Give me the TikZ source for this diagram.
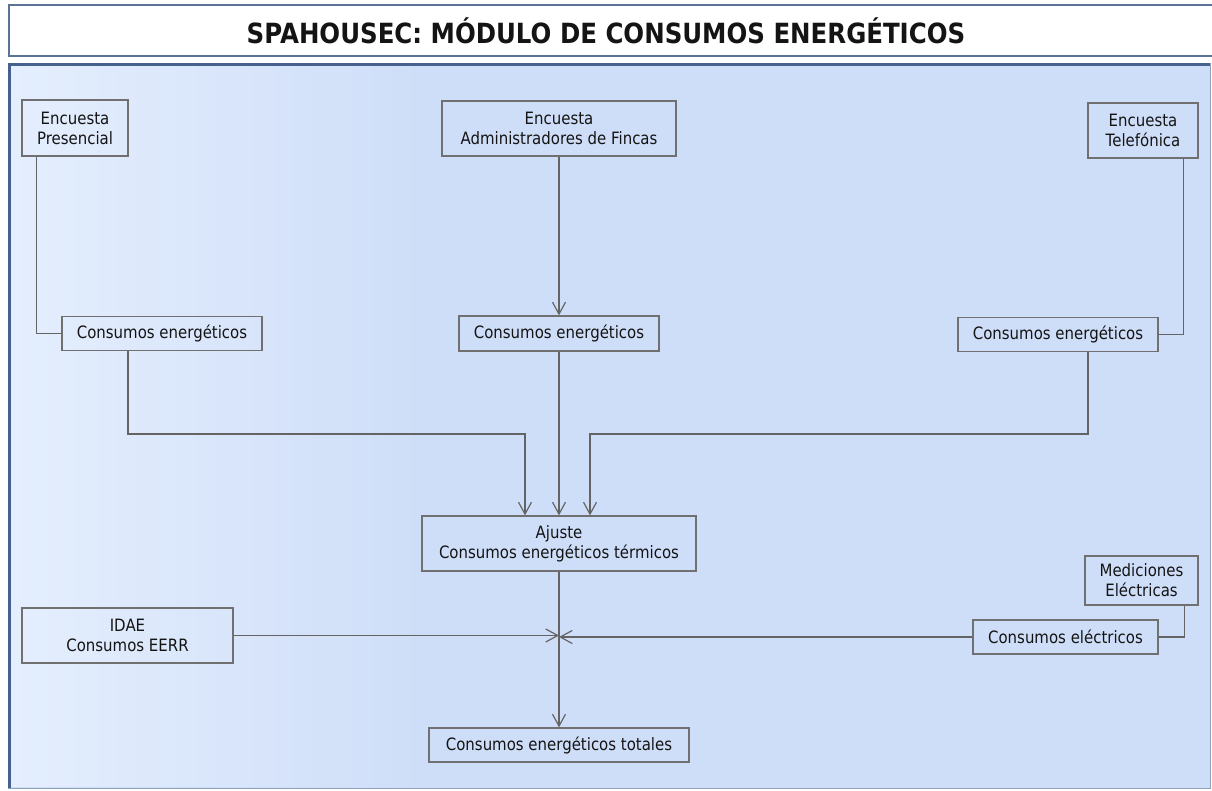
\documentclass[tikz,border=0pt]{standalone}
\usepackage{fontspec}
\setmainfont{DejaVu Sans}[FakeStretch=0.88]
\usetikzlibrary{arrows.meta,calc}
\definecolor{panelblue}{RGB}{207,222,248}
\definecolor{panellight}{RGB}{228,238,253}
\definecolor{panelborder}{RGB}{70,98,140}
\definecolor{titleborder}{RGB}{90,115,150}
\definecolor{linegray}{RGB}{100,100,100}
\definecolor{boxgray}{RGB}{112,112,112}
\definecolor{txt}{RGB}{20,20,20}
\begin{document}
\begin{tikzpicture}[x=1pt,y=-1pt,
  box/.style={draw=boxgray,line width=1.2pt,rectangle,align=center,inner sep=0pt,
     text=txt,font=\fontsize{17}{20}\selectfont},
  conn/.style={draw=linegray,line width=1.3pt},
  arr/.style={conn,-{Straight Barb[length=12pt,width=13pt,line width=1.2pt]}}]
\useasboundingbox (0,0) rectangle (1212,791);
% title
\fill[white] (9,5) rectangle (1213,56);
\draw[titleborder,line width=1.3pt] (1213,5) -- (9,5) -- (9,56) -- (1213,56);
\node[text=txt,font=\bfseries\fontsize{27.8}{33}\selectfont] (title) at (606,31) {SPAHOUSEC: MÓDULO DE CONSUMOS ENERGÉTICOS};
% panel
\fill[panelblue] (8,63) rectangle (1210,788);
\shade[left color=panellight,right color=panelblue] (10,65) rectangle (420,786);
\draw[panelborder!60,line width=1pt] (1210,63) -- (1210,788) -- (8,788);
\draw[panelborder,line width=3pt] (9.5,788) -- (9.5,64.5) -- (1210,64.5);
% boxes
\node[box,minimum width=106pt,minimum height=56pt] (pres) at (75,128) {Encuesta\\Presencial};
\node[box,minimum width=234pt,minimum height=55pt] (admin) at (559,128.5) {Encuesta\\Administradores de Fincas};
\node[box,minimum width=110pt,minimum height=55pt] (tel) at (1143,130.5) {Encuesta\\Telefónica};
\node[box,minimum width=200pt,minimum height=34pt] (ceL) at (162,333.5) {Consumos energéticos};
\node[box,minimum width=200pt,minimum height=35pt] (ceM) at (559,333.5) {Consumos energéticos};
\node[box,minimum width=200pt,minimum height=34pt] (ceR) at (1058,334.5) {Consumos energéticos};
\node[box,minimum width=274pt,minimum height=55pt] (aj) at (559,543.5) {Ajuste\\Consumos energéticos térmicos};
\node[box,minimum width=211pt,minimum height=55pt] (idae) at (127.5,635.5) {IDAE\\Consumos EERR};
\node[box,minimum width=185pt,minimum height=34pt] (cel) at (1065.5,637) {Consumos eléctricos};
\node[box,minimum width=113pt,minimum height=49pt] (med) at (1141.5,580.5) {Mediciones\\Eléctricas};
\node[box,minimum width=260pt,minimum height=34pt] (tot) at (559,745) {Consumos energéticos totales};
% helper coordinates
\coordinate (bL) at (128,434);
\coordinate (bR) at (1088,434);
\coordinate (aL) at ($(aj.north)+(-34,0)$);
\coordinate (aR) at ($(aj.north)+(31,0)$);
\coordinate (J) at (559,636);
% connectors
\draw[conn] ($(pres.south west)+(15,0)$) |- (ceL.west);
\draw[arr] (admin.south) -- (ceM.north);
\draw[conn] ($(tel.south east)+(-15,0)$) |- (ceR.east);
\draw[arr] (bL |- ceL.south) -- (bL) -| (aL);
\draw[arr] (ceM.south) -- (aj.north);
\draw[arr] (bR |- ceR.south) -- (bR) -| (aR);
\draw[arr] (aj.south) -- (tot.north);
\draw[arr] (idae.east) -- (J |- idae.east);
\draw[arr] (cel.west) -- (J |- cel.west);
\draw[conn] ($(med.south east)+(-14,0)$) |- (cel.east);
\end{tikzpicture}
\end{document}
